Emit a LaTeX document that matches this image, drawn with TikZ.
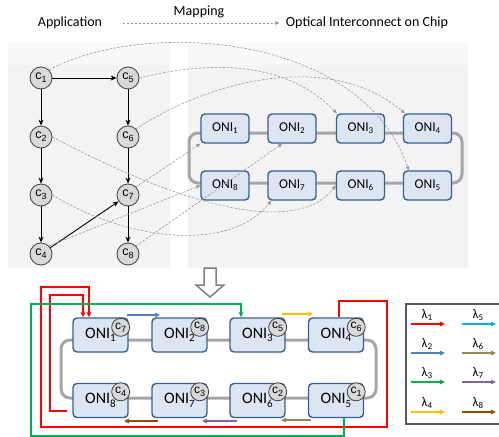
\documentclass[tikz,border=0pt]{standalone}
\usepackage{fontspec}
\setmainfont{Carlito}
\newfontfamily\arialfont{Liberation Sans}
\usetikzlibrary{arrows.meta,calc}

\definecolor{panel}{HTML}{F3F3F3}
\definecolor{paneltop}{HTML}{F8F8F8}
\definecolor{onifill}{HTML}{DCE6F2}
\definecolor{oniline}{HTML}{3A5F8F}
\definecolor{ringgray}{HTML}{A6A6A6}
\definecolor{mapgray}{HTML}{999999}
\definecolor{cfill}{HTML}{D9D9D9}
\definecolor{cline}{HTML}{404040}
\definecolor{hollowgray}{HTML}{808080}
\definecolor{legendgray}{HTML}{595959}
\definecolor{lamA}{HTML}{FF0000}
\definecolor{lamB}{HTML}{4F81BD}
\definecolor{lamC}{HTML}{00B050}
\definecolor{lamD}{HTML}{FFC000}
\definecolor{lamE}{HTML}{00B0F0}
\definecolor{lamF}{HTML}{948A54}
\definecolor{lamG}{HTML}{8064A2}
\definecolor{lamH}{HTML}{984807}

% task labels c_k and interface labels ONI_k
\newcommand{\csub}[1]{c\raisebox{-3pt}{\fontsize{9}{9}\selectfont #1}}
\newcommand{\onit}[1]{ONI\raisebox{-2pt}{\fontsize{9}{9}\selectfont #1}}
\newcommand{\onib}[1]{ONI\raisebox{-3.5pt}{\fontsize{11}{11}\selectfont #1}}
\newcommand{\lamsub}[1]{λ\raisebox{-2.5pt}{\fontsize{9}{9}\selectfont #1}}

\begin{document}
\begin{tikzpicture}[x=1pt,y=-1pt,
  cnode/.style={circle,draw=cline,fill=cfill,line width=0.8pt,minimum size=22pt,inner sep=0pt,
    font=\arialfont\fontsize{12.5}{12.5}\selectfont},
  cmini/.style={circle,draw=cline,fill=cfill,line width=0.8pt,minimum size=18pt,inner sep=0pt,
    font=\arialfont\fontsize{12}{12}\selectfont},
  onitop/.style={rectangle,rounded corners=4pt,draw=oniline,fill=onifill,line width=1.4pt,
    minimum width=48pt,minimum height=29pt,inner sep=0pt,font=\fontsize{13.5}{13.5}\selectfont},
  onibot/.style={rectangle,rounded corners=4pt,draw=oniline,fill=onifill,line width=1.4pt,
    minimum width=55pt,minimum height=34pt,inner sep=0pt,font=\fontsize{16}{16}\selectfont},
  dep/.style={-{Stealth[length=6pt,width=5pt]},line width=0.9pt,black},
  mapline/.style={-{Triangle[length=4pt,width=3.5pt]},draw=mapgray,line width=0.6pt,
    dash pattern=on 2.5pt off 1.5pt},
  ringpath/.style={draw=ringgray,line width=3pt,rounded corners=9pt},
  routeline/.style={line width=1.4pt,-{Triangle[length=5pt,width=4.5pt]}},
  lamarrow/.style={line width=1.3pt,-{Triangle[length=5pt,width=4.5pt]}},
  heading/.style={font=\fontsize{14}{14}\selectfont},
  lamlabel/.style={font=\fontsize{13}{13}\selectfont,inner sep=0pt}
]
\useasboundingbox (0,0) rectangle (499,437);

% ---- background panels
\fill[panel] (8,43) rectangle (170,268);
\fill[paneltop] (8,43) rectangle (170,65);
\fill[panel] (188,43) rectangle (468,268);
\fill[paneltop] (188,43) rectangle (468,65);

% ---- headings
\node[heading] (app) at (70,23) {Application};
\node[heading] (opt) at (367,23) {Optical Interconnect on Chip};
\node[heading] (mapt) at (199,12) {Mapping};
\draw[mapline] ([xshift=17pt]app.east) -- ([xshift=-3pt]opt.west);

% ---- task graph
\node[cnode] (c1) at (41,78) {\csub{1}};
\node[cnode] (c5) at (128,78) {\csub{5}};
\node[cnode] (c2) at (41,137) {\csub{2}};
\node[cnode] (c6) at (128,137) {\csub{6}};
\node[cnode] (c3) at (41,195) {\csub{3}};
\node[cnode] (c7) at (128,195) {\csub{7}};
\node[cnode] (c4) at (41,254) {\csub{4}};
\node[cnode] (c8) at (128,254) {\csub{8}};

\draw[dep] (c1) -- (c5);
\draw[dep] (c1) -- (c2);
\draw[dep] (c5) -- (c6);
\draw[dep] (c2) -- (c3);
\draw[dep] (c6) -- (c7);
\draw[dep] (c3) -- (c4);
\draw[dep] (c7) -- (c8);
\draw[dep] (c4) -- (c7);

% ---- optical ring on chip
\draw[ringpath] (189,133) rectangle (462,183);
\node[onitop] (t1) at (225,128.5) {\onit{1}};
\node[onitop] (t2) at (292,128.5) {\onit{2}};
\node[onitop] (t3) at (360.5,128.5) {\onit{3}};
\node[onitop] (t4) at (427.5,128.5) {\onit{4}};
\node[onitop] (t8) at (225,185.5) {\onit{8}};
\node[onitop] (t7) at (292,185.5) {\onit{7}};
\node[onitop] (t6) at (360.5,185.5) {\onit{6}};
\node[onitop] (t5) at (427.5,185.5) {\onit{5}};

% ---- mapping of tasks onto interfaces
\draw[mapline] (c1.north east) .. controls (140,20) and (360,30) .. ([xshift=6pt]t5.north west);
\draw[mapline] (c5.east) .. controls (220,58) and (290,65) .. ([xshift=1pt]t3.north west);
\draw[mapline] (c6.north east) .. controls (210,80) and (330,50) .. ([xshift=2pt]t4.north west);
\draw[mapline] (c2.east) .. controls (200,215) and (300,232) .. (t6.west);
\draw[mapline] (c3.east) .. controls (130,242) and (230,252) .. ([xshift=4pt]t7.south west);
\draw[mapline] (c4.north east) -- (t8.west);
\draw[mapline] (c7.north east) -- (t1.south west);
\draw[mapline] (c8.north east) -- ([xshift=15pt]t2.south west);

% ---- transition arrow
\draw[draw=hollowgray,fill=white,line width=1.5pt,line join=miter]
  (204,268) -- (216,268) -- (216,285) -- (224,285) -- (210,297) -- (196,285) -- (204,285) -- cycle;

% ---- mapped ring with wavelength assignment
\draw[ringpath] (61,340) rectangle (376,398);
\node[onibot] (b1) at (100.5,335) {\onib{1}};
\node[onibot] (b2) at (179.5,335) {\onib{2}};
\node[onibot] (b3) at (257.5,335) {\onib{3}};
\node[onibot] (b4) at (336,335) {\onib{4}};
\node[onibot] (b8) at (100.5,400.5) {\onib{8}};
\node[onibot] (b7) at (179.5,400.5) {\onib{7}};
\node[onibot] (b6) at (257.5,400.5) {\onib{6}};
\node[onibot] (b5) at (336,400.5) {\onib{5}};

\node[cmini] (m1) at ([xshift=-8pt,yshift=-10pt]b1.north east) {\csub{7}};
\node[cmini] (m2) at ([xshift=-8pt,yshift=-10pt]b2.north east) {\csub{8}};
\node[cmini] (m3) at ([xshift=-8pt,yshift=-10pt]b3.north east) {\csub{5}};
\node[cmini] (m4) at ([xshift=-8pt,yshift=-10pt]b4.north east) {\csub{6}};
\node[cmini] (m8) at ([xshift=-8pt,yshift=-9pt]b8.north east) {\csub{4}};
\node[cmini] (m7) at ([xshift=-8pt,yshift=-9pt]b7.north east) {\csub{3}};
\node[cmini] (m6) at ([xshift=-8pt,yshift=-9pt]b6.north east) {\csub{2}};
\node[cmini] (m5) at ([xshift=-8pt,yshift=-9pt]b5.north east) {\csub{1}};

% long-haul routes
\draw[routeline,lamA] ([xshift=3pt]b4.north) |- (387,301) |- (41,427) |- (89,287) -- ([xshift=-11.5pt]b1.north);
\draw[routeline,lamA] ([xshift=-5pt,yshift=-10.5pt]b8.west) -| (50,295) -| ([xshift=-17.5pt]b1.north);
\draw[routeline,lamC,line width=1.2pt] ([xshift=8pt]b5.south) |- (31,436) |- (241,304) -- ([xshift=-16.5pt]b3.north);

% neighbour transfers
\draw[lamarrow,lamB] (127,315) -- (160,315);
\draw[lamarrow,lamD] (282,314) -- (313,314);
\draw[lamarrow,lamH] (158,421) -- (124,421);
\draw[lamarrow,lamG] (237,421) -- (202,421);
\draw[lamarrow,lamF] (311,420) -- (281,420);

% ---- wavelength legend
\draw[draw=legendgray,line width=1.5pt] (505,304) -- (406,304) -- (406,424) -- (505,424);
\foreach \n/\col/\x/\y in {1/lamA/411/324, 2/lamB/411/353, 3/lamC/411/382, 4/lamD/411/412,
                           5/lamE/462/324, 6/lamF/462/353, 7/lamG/462/382, 8/lamH/462/412}{
  \node[lamlabel] (lg\n) at (\x+16,\y-9) {\lamsub{\n}};
  \draw[lamarrow,\col] (\x,\y) -- (\x+34,\y);
}
\end{tikzpicture}
\end{document}
